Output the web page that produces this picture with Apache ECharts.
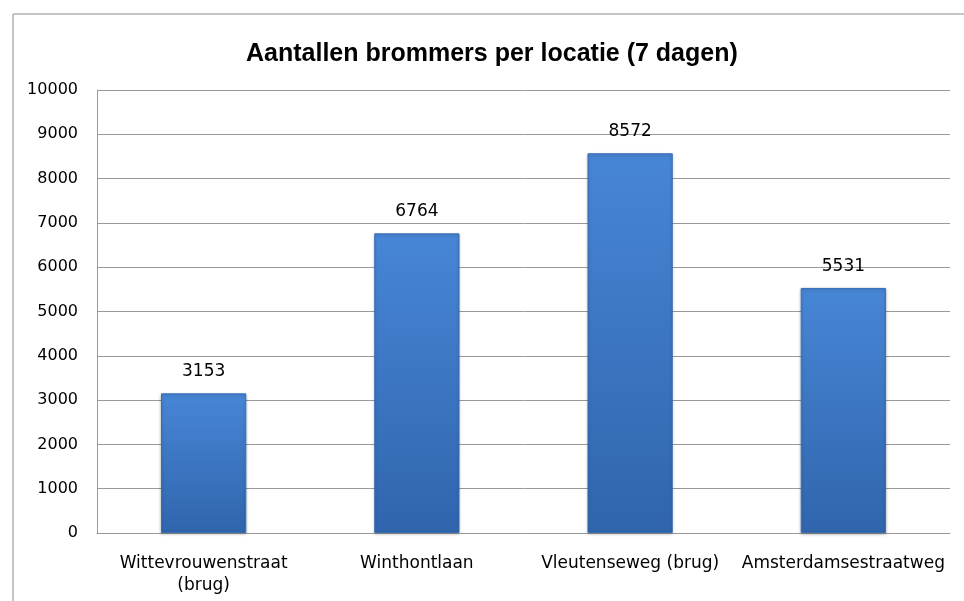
<!DOCTYPE html>
<html style="height: 100%">
<head>
<meta charset="utf-8">
<script src="https://cdn.jsdelivr.net/npm/echarts@6/dist/echarts.min.js"></script>
</head>
<body style="height: 100%; margin: 0; background: #fff">
<div id="main" style="width: 964px; height: 601px"></div>
<script type="text/javascript">
// locaties en aantallen
var locaties = ['Wittevrouwenstraat\n(brug)', 'Winthontlaan', 'Vleutenseweg (brug)', 'Amsterdamsestraatweg'];
var aantallen = [3153, 6764, 8572, 5531];
var yTicks = [0, 1000, 2000, 3000, 4000, 5000, 6000, 7000, 8000, 9000, 10000];

var font = 'DejaVu Sans, sans-serif';
var myChart = echarts.init(document.getElementById('main'));
var option = {
    backgroundColor: '#fff',
    animation: false,
    graphic: [{
        type: 'rect',
        shape: { x: 13, y: 14, width: 1000, height: 700 },
        style: { fill: 'none', stroke: '#8c8c8c', lineWidth: 1 }
    }],
    title: {
        text: 'Aantallen brommers per locatie (7 dagen)',
        left: 241,
        top: 37,
        textStyle: { fontFamily: 'Liberation Sans, Arial, sans-serif', fontSize: 25, fontWeight: 'bold', color: '#000' }
    },
    grid: { left: 97, right: 14, top: 90, bottom: 68 },
    xAxis: {
        type: 'category',
        data: locaties,
        axisTick: { show: false },
        axisLine: { lineStyle: { color: '#999' } },
        axisLabel: { color: '#000', fontFamily: font, fontSize: 17, margin: 20, lineHeight: 22, interval: 0 }
    },
    yAxis: {
        type: 'value',
        min: yTicks[0],
        max: yTicks[yTicks.length - 1],
        interval: 1000,
        axisLine: { show: true, lineStyle: { color: '#999' } },
        axisTick: { show: false },
        splitLine: { lineStyle: { color: '#999' } },
        axisLabel: {
            color: '#000', fontFamily: font, fontSize: 16, margin: 19,
            formatter: function (v) { return String(v); }
        }
    },
    series: [{
        type: 'bar',
        data: aantallen,
        barWidth: '40%',
        itemStyle: {
            color: new echarts.graphic.LinearGradient(0, 0, 0, 1, [
                { offset: 0, color: '#4786d6' },
                { offset: 1, color: '#3065ad' }
            ]),
            borderColor: '#3a6fb8',
            borderWidth: 1,
            shadowColor: 'rgba(0,0,0,0.25)',
            shadowBlur: 3,
            shadowOffsetY: 1
        },
        label: {
            show: true,
            position: 'top',
            distance: 13,
            color: '#000',
            fontFamily: font,
            fontSize: 17
        }
    }]
};
myChart.setOption(option);
</script>
</body>
</html>
